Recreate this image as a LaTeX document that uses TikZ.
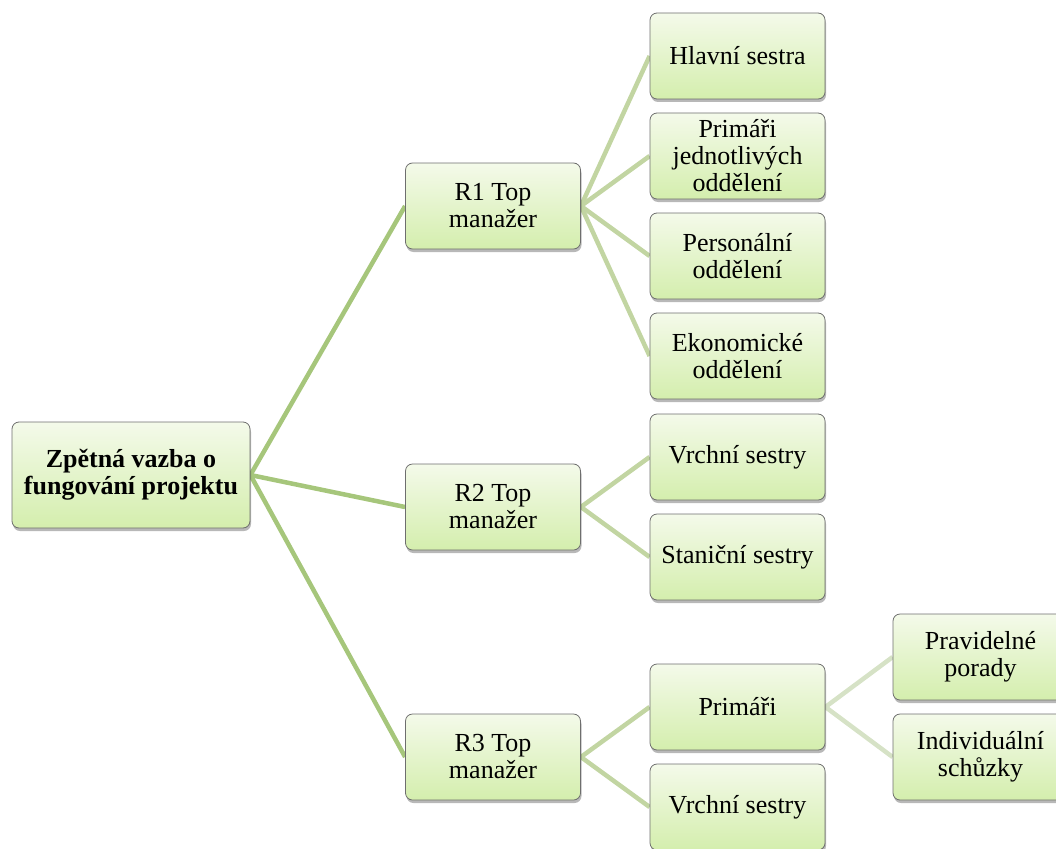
\documentclass[tikz,border=0pt]{standalone}
\usepackage{fontspec}
\setmainfont{Liberation Serif}
\usetikzlibrary{shadows,backgrounds}
\definecolor{boxtop}{HTML}{F4FAEA}
\definecolor{boxbot}{HTML}{D4EEAD}
\definecolor{boxline}{HTML}{6E6E6E}
\definecolor{linkA}{HTML}{A6C67B}
\definecolor{linkB}{HTML}{C2D5A2}
\definecolor{linkC}{HTML}{D6E2C6}
\tikzset{
  box/.style={rectangle, rounded corners=7pt, draw=boxline, line width=0.8pt,
    top color=boxtop, bottom color=boxbot,
    minimum width=175pt, minimum height=86pt, align=center, inner sep=2pt,
    font=\fontsize{26}{27}\selectfont,
    drop shadow={shadow xshift=1pt, shadow yshift=-3pt, fill=black, opacity=0.28}},
  rootbox/.style={box, minimum width=238pt, minimum height=106pt,
    font=\fontsize{26}{27}\selectfont\bfseries},
  linkone/.style={draw=linkA, line width=4.5pt},
  linktwo/.style={draw=linkB, line width=4.5pt},
  linkthree/.style={draw=linkC, line width=4.5pt}
}
\begin{document}
\begin{tikzpicture}[x=1pt, y=-1pt]
\useasboundingbox (0,0) rectangle (1056,848);
\clip (0,0) rectangle (1056,848);

% root
\node[rootbox] (root) at (131,475) {Zpětná vazba o\\fungování projektu};

% level 1
\node[box] (r1) at (493,206) {R1 Top\\manažer};
\node[box] (r2) at (493,507) {R2 Top\\manažer};
\node[box] (r3) at (493,757) {R3 Top\\manažer};

% level 2
\node[box] (a1) at (737.5,56)  {Hlavní sestra};
\node[box] (a2) at (737.5,156) {Primáři\\jednotlivých\\oddělení};
\node[box] (a3) at (737.5,256) {Personální\\oddělení};
\node[box] (a4) at (737.5,356) {Ekonomické\\oddělení};
\node[box] (b1) at (737.5,457) {Vrchní sestry};
\node[box] (b2) at (737.5,557) {Staniční sestry};
\node[box] (c1) at (737.5,707) {Primáři};
\node[box] (c2) at (737.5,807) {Vrchní sestry};

% level 3
\node[box] (d1) at (980.5,657) {Pravidelné\\porady};
\node[box] (d2) at (980.5,757) {Individuální\\schůzky};

\begin{scope}[on background layer]
  \foreach \t in {r1,r2,r3} \draw[linkone] (root.east) -- (\t.west);
  \foreach \t in {a1,a2,a3,a4} \draw[linktwo] (r1.east) -- (\t.west);
  \foreach \t in {b1,b2} \draw[linktwo] (r2.east) -- (\t.west);
  \foreach \t in {c1,c2} \draw[linktwo] (r3.east) -- (\t.west);
  \foreach \t in {d1,d2} \draw[linkthree] (c1.east) -- (\t.west);
\end{scope}
\end{tikzpicture}
\end{document}
